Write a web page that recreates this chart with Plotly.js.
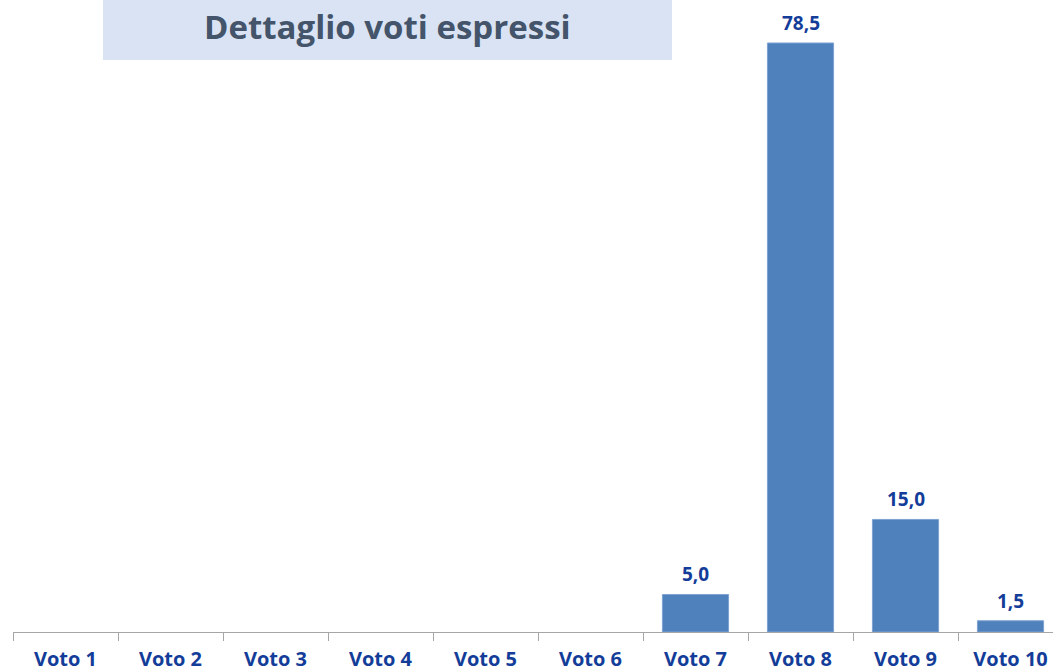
<!DOCTYPE html>
<html><head><meta charset="utf-8">
<script src="https://cdn.plot.ly/plotly-3.0.1.min.js"></script>
<style>html,body{margin:0;padding:0;overflow:hidden;background:#fff;}</style>
</head><body>
<div id="chart"></div>
<script>
const categories = ['Voto 1','Voto 2','Voto 3','Voto 4','Voto 5','Voto 6','Voto 7','Voto 8','Voto 9','Voto 10'];
const values = [null,null,null,null,null,null,5.0,78.5,15.0,1.5];
const chartTitle = 'Dettaglio voti espressi';

const labelFont = {family: 'Open Sans, sans-serif', size: 19, color: '#133d99', weight: 'bold'};

const trace = {
  type: 'bar', x: categories, y: values,
  marker: {color: '#4f81bd', line: {color: '#7ea2d2', width: 1}},
  cliponaxis: false,
  hoverinfo: 'skip'
};

const valueLabels = categories.map((c, i) => values[i] == null ? null : {
  x: c, y: values[i], xref: 'x', yref: 'y', xanchor: 'center', yanchor: 'middle', yshift: 20,
  text: values[i].toFixed(1).replace('.', ','), showarrow: false, font: labelFont
}).filter(a => a);

const layout = {
  width: 1070, height: 672,
  margin: {l: 13, r: 7, t: 0, b: 40},
  separators: ',.',
  bargap: 0.37,
  showlegend: false,
  plot_bgcolor: '#fff', paper_bgcolor: '#fff',
  xaxis: {
    type: 'category', tickson: 'boundaries', ticks: 'outside', ticklen: 8, tickcolor: '#a6a6a6', tickwidth: 1,
    showline: true, linecolor: '#a6a6a6', linewidth: 1, ticklabelstandoff: 9,
    tickfont: {family: 'Open Sans, sans-serif', size: 20, color: '#133d99', weight: 'bold'},
    showgrid: false, zeroline: false
  },
  yaxis: {range: [0, 84.23], visible: false, showgrid: false, zeroline: false},
  shapes: [{type: 'rect', xref: 'paper', yref: 'paper', x0: 0.0857, x1: 0.6276, y0: 0.905, y1: 1.0,
            fillcolor: '#d9e3f3', line: {width: 0}, layer: 'below'}],
  annotations: [{xref: 'paper', yref: 'paper', x: 0.3567, y: 0.958, xanchor: 'center', yanchor: 'middle',
                 text: '<b>' + chartTitle + '</b>', showarrow: false,
                 font: {family: 'Open Sans, sans-serif', size: 33, color: '#44546a'}}].concat(valueLabels)
};
Plotly.newPlot('chart', [trace], layout, {displayModeBar: false, staticPlot: true});
</script>
</body></html>
